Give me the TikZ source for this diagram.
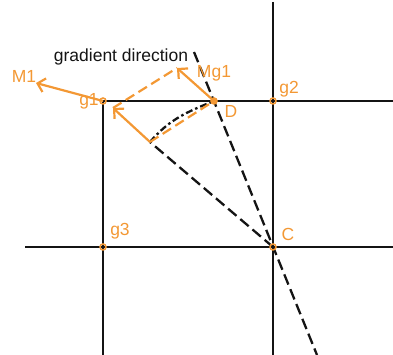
\documentclass[tikz,border=0pt]{standalone}
\usepackage{fontspec}
\setmainfont{Liberation Sans}
\usetikzlibrary{arrows.meta}
\definecolor{org}{RGB}{243,152,52}
\definecolor{ink}{RGB}{20,20,20}
\begin{document}
\begin{tikzpicture}[x=1pt,y=1pt,
  grid/.style={draw=ink,line width=2.3pt},
  blackdash/.style={draw=ink,line width=2.3pt,dash pattern=on 11pt off 5pt},
  arcdash/.style={draw=ink,line width=2.3pt,dash pattern=on 7pt off 3pt on 2.5pt off 3pt},
  orgarrow/.style={draw=org,line width=2.2pt,-{Straight Barb[length=7pt,width=14pt]}},
  orgdash/.style={draw=org,line width=2.2pt,dash pattern=on 10pt off 5pt},
  lbl/.style={text=org,font=\fontsize{17.5}{20}\selectfont,inner sep=0pt},
  dot/.style={circle,draw=org,line width=1.5pt,minimum size=6pt,inner sep=0pt}]
\useasboundingbox (0,0) rectangle (393,355);
% key points
\coordinate (g1) at (103,254);
\coordinate (g2) at (273,254);
\coordinate (g3) at (103,108);
\coordinate (C) at (273,108);
\coordinate (D) at (214,254);
\coordinate (P) at (150,213);
\coordinate (Mtip) at (177,287);
\coordinate (Ptip) at (113,247);
\coordinate (M1tip) at (36,272);
\coordinate (T) at (194,303);
\coordinate (B) at (317,0);
\coordinate (R1) at (393,254);
\coordinate (R2) at (393,108);
\coordinate (L2) at (25,108);
\coordinate (VT) at (273,353);
\coordinate (VB) at (273,0);
\coordinate (LB) at (103,0);
% grid lines
\draw[grid] (g1) -- (R1);
\draw[grid] (L2) -- (R2);
\draw[grid] (VT) -- (VB);
\draw[grid] (g1) -- (LB);
% dashed lines
\draw[blackdash] (T) -- (B);
\draw[blackdash] (C) -- (P);
\draw[arcdash] (P) to[out=49.5,in=202] (D);
% orange parallelogram
\draw[orgdash] (P) -- (D);
\draw[orgdash] (Ptip) -- (Mtip);
\draw[orgarrow] (D) -- (Mtip);
\draw[orgarrow] (P) -- (Ptip);
\draw[orgarrow] (g1) -- (M1tip);
% dots
\node[dot] (ng1) at (g1) {};
\node[dot] (ng2) at (g2) {};
\node[dot] (ng3) at (g3) {};
\node[dot] (nC) at (C) {};
\node[dot,fill=org] (nD) at (D) {};
% labels
\node[lbl] (tM1) at (24,279) {M1};
\node[lbl] (tg1) at (89,254) {g1};
\node[lbl] (tMg1) at (214,282) {Mg1};
\node[lbl] (tD) at (231,244) {D};
\node[lbl] (tg2) at (289,266) {g2};
\node[lbl] (tg3) at (120,124) {g3};
\node[lbl] (tC) at (288,121) {C};
\node[inner sep=0pt,text=ink,font=\fontsize{17.5}{20}\selectfont] (tgd) at (121,298) {gradient direction};
\end{tikzpicture}
\end{document}
